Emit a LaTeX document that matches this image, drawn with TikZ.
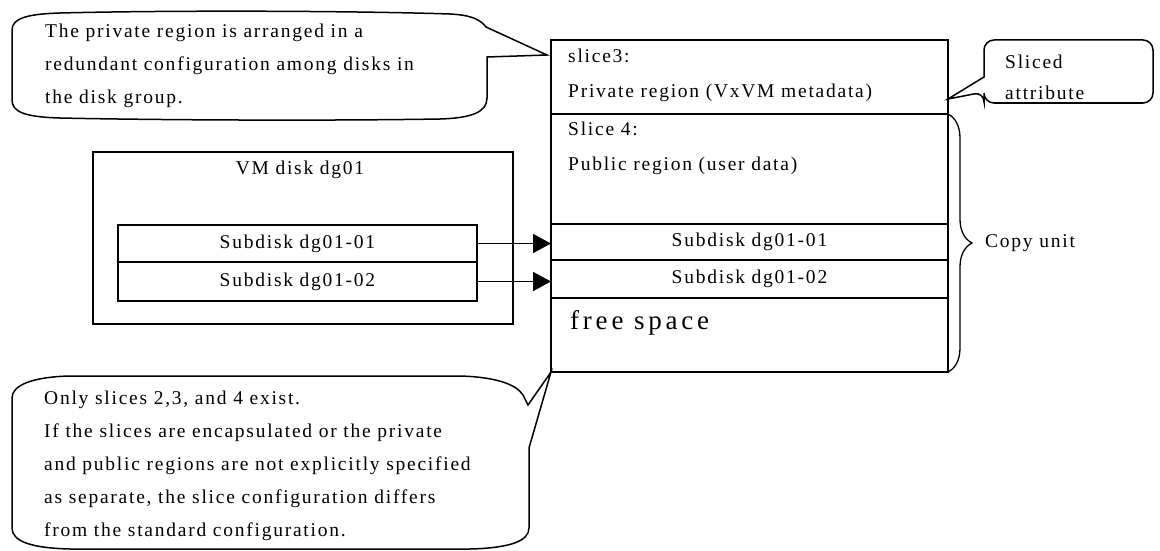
\documentclass[tikz,border=0pt]{standalone}
\usepackage{fontspec}
\newfontfamily\mincho[LetterSpace=9]{Liberation Serif}
\usetikzlibrary{arrows.meta,positioning,calc,decorations.pathreplacing}
\newcommand{\bodyfont}{\mincho\fontsize{19.5}{33}\selectfont}
\newcommand{\boxfont}{\mincho\fontsize{19.5}{35}\selectfont}
\newcommand{\bigfont}{\mincho\addfontfeature{LetterSpace=14}\fontsize{27}{30}\selectfont}

\begin{document}
\begin{tikzpicture}[x=1pt,y=-1pt]
\tikzstyle{slicebox}=[rectangle, draw, line width=1.6pt, minimum width=397pt, inner sep=0pt, outer sep=0pt, font=\bodyfont]
\tikzstyle{subbox}=[slicebox, minimum width=359pt]
\tikzstyle{diskbox}=[slicebox, minimum width=420pt, minimum height=172pt]
\tikzstyle{txt}=[inner sep=0pt, align=left, font=\bodyfont]
\tikzstyle{callout}=[line width=1.5pt]
\tikzstyle{connect}=[-{Triangle[length=18pt,width=19pt]}, line width=1.6pt]

  \useasboundingbox (0,0) rectangle (1160,551);

  % slices of the disk
  \node[slicebox, minimum height=74pt, anchor=north west] (slice3) at (551,40) {};
  \node[slicebox, minimum height=110pt, below=0pt of slice3] (slice4) {};
  \node[slicebox, minimum height=36pt, below=0pt of slice4]  (rsub1)  {Subdisk dg01-01};
  \node[slicebox, minimum height=38pt, below=0pt of rsub1]   (rsub2)  {Subdisk dg01-02};
  \node[slicebox, minimum height=74pt, below=0pt of rsub2]   (free)   {};

  \node[txt, font=\boxfont, anchor=north west] (slice3txt) at ($(slice3.north west)+(17,9)$) {slice3:\\Private region (VxVM metadata)};
  \node[txt, font=\boxfont, anchor=north west] (slice4txt) at ($(slice4.north west)+(17,8)$) {Slice 4:\\Public region (user data)};
  \node[txt, font=\bigfont, anchor=north west] (freetxt)   at ($(free.north west)+(19,12)$)   {free space};

  % VM disk
  \node[diskbox, anchor=north west] (vmdisk) at (93,152) {};
  \node[txt, anchor=north] (vmtxt) at ($(vmdisk.north)+(-3,9)$) {VM disk dg01};
  \node[subbox, minimum height=37pt, anchor=north west] (lsub1) at (118,225) {Subdisk dg01-01};
  \node[subbox, minimum height=39pt, below=0pt of lsub1] (lsub2) {Subdisk dg01-02};

  \draw[connect] (lsub1.east) -- (lsub1.east -| rsub1.west);
  \draw[connect] (lsub2.east) -- (lsub2.east -| rsub2.west);

  % copy unit
  \draw[line width=1.3pt, decorate, decoration={brace, amplitude=24pt, aspect=0.5}] (slice4.north east) -- (free.south east);
  \coordinate (bracetip) at ($(slice4.north east)!0.5!(free.south east)+(24,0)$);
  \node[txt, right=13pt of bracetip] (copyunit) {Copy unit};

  % callouts
  \coordinate (privtip) at ($(slice3.north west)+(-4,15)$);
  \draw[callout] (486,27) -- (privtip) -- (487,57) -- (487,98)
    .. controls (487,112) and (472,118) .. (440,119)
    .. controls (320,121) and (150,120) .. (60,118)
    .. controls (25,117) and (12,112) .. (12,100) -- (12,30)
    .. controls (12,18) and (28,14) .. (60,13)
    .. controls (180,10) and (360,11) .. (450,14)
    .. controls (470,15) and (480,19) .. (486,27) -- cycle;
  \node[txt, anchor=north west] (privnote) at (45,24) {The private region is arranged in a\\redundant configuration among disks in\\the disk group.};

  \coordinate (slicetip) at (free.south west);
  \draw[callout] (528,405) -- (slicetip) -- (529,448) -- (529,528)
    .. controls (529,541) and (510,548) .. (470,549) -- (70,549)
    .. controls (30,548) and (12,541) .. (12,528) -- (12,398)
    .. controls (12,386) and (30,377) .. (70,376) -- (460,376)
    .. controls (495,377) and (516,384) .. (523,395) -- cycle;
  \node[txt, anchor=north west] (slicenote) at (44,391) {Only slices 2,3, and 4 exist.\\If the slices are encapsulated or the private\\and public regions are not explicitly specified\\as separate, the slice configuration differs\\from the standard configuration.};

  \coordinate (attrtip) at ($(slice3.south east)+(0,-15)$);
  \draw[callout, rounded corners=10pt] (1060,40) -- (1153,40) -- (1153,103) -- (984,103) -- (984,92) [sharp corners] -- (attrtip) -- (984,77) [rounded corners=10pt] -- (984,40) -- cycle;
  \node[txt, font=\mincho\fontsize{19.5}{31}\selectfont, anchor=north west] (attrnote) at (1005,55) {Sliced\\attribute};

\end{tikzpicture}
\end{document}
